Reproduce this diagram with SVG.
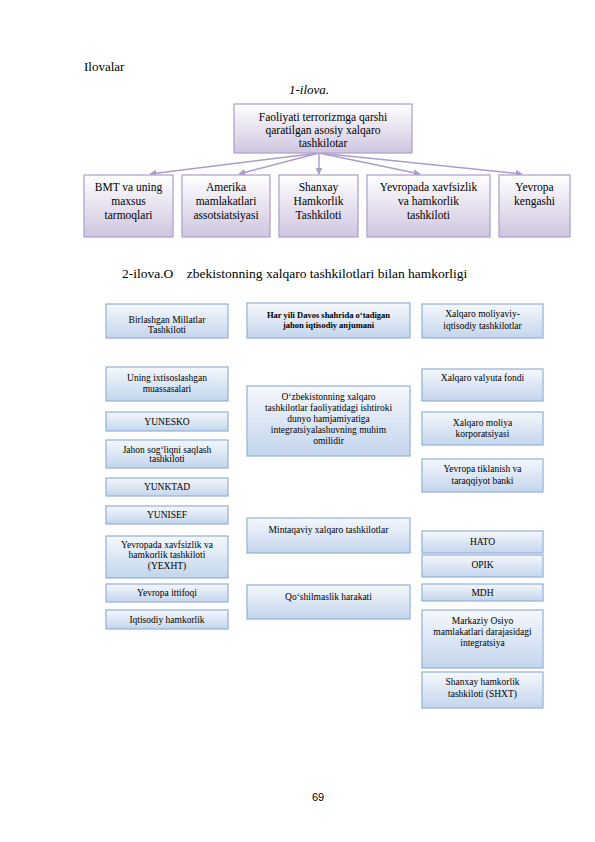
<svg xmlns="http://www.w3.org/2000/svg" width="595" height="842" viewBox="0 0 595 842">
<defs>
<linearGradient id="gp" x1="0" y1="0" x2="0" y2="1">
<stop offset="0" stop-color="#ffffff"/>
<stop offset="1" stop-color="#cfc5df"/>
</linearGradient>
<linearGradient id="gb" x1="0" y1="0" x2="0" y2="1">
<stop offset="0" stop-color="#f5f8fc"/>
<stop offset="1" stop-color="#c3d5ec"/>
</linearGradient>
<marker id="ah" viewBox="0 0 10 10" refX="9" refY="5" markerWidth="7" markerHeight="7" markerUnits="userSpaceOnUse" orient="auto">
<path d="M0,0 L10,5 L0,10 z" fill="#ab9cc9"/>
</marker>
</defs>
<style>
text{font-family:"Liberation Serif","Times New Roman",serif;fill:#000}
.p{fill:url(#gp);stroke:#b3a4cf;stroke-width:1.3}
.b{fill:url(#gb);stroke:#9ab6da;stroke-width:1.3}
.t1{font-size:11.5px;text-anchor:middle}
.t2{font-size:9.5px;text-anchor:middle}
.t3{font-size:8.5px;font-weight:bold;text-anchor:middle}
.c{stroke:#ab9cc9;stroke-width:1.4;fill:none;marker-end:url(#ah)}
</style>
<rect width="595" height="842" fill="#fff"/>
<text x="84" y="71" style="font-size:13px">Ilovalar</text>
<text x="309" y="94" style="font-size:13px;font-style:italic;text-anchor:middle">1-ilova.</text>

<g id="connectors">
<line class="c" x1="319" y1="153" x2="150" y2="174"/>
<line class="c" x1="319" y1="153" x2="239" y2="174"/>
<line class="c" x1="319" y1="153" x2="319" y2="174"/>
<line class="c" x1="319" y1="153" x2="420" y2="174"/>
<line class="c" x1="319" y1="153" x2="522" y2="174"/>
</g>

<g id="top">
<rect class="p" x="234" y="104" width="178" height="49"/>
<text class="t1" x="323" y="121">Faoliyati terrorizmga qarshi</text>
<text class="t1" x="323" y="134">qaratilgan asosiy xalqaro</text>
<text class="t1" x="323" y="147">tashkilotar</text>
</g>
<g id="bmt">
<rect class="p" x="84" y="175" width="89" height="62"/>
<text class="t1" x="128.5" y="191">BMT va uning</text>
<text class="t1" x="128.5" y="205">maxsus</text>
<text class="t1" x="128.5" y="219">tarmoqlari</text>
</g>
<g id="amerika">
<rect class="p" x="182" y="175" width="88" height="62"/>
<text class="t1" x="226" y="191">Amerika</text>
<text class="t1" x="226" y="205">mamlakatlari</text>
<text class="t1" x="226" y="219">assotsiatsiyasi</text>
</g>
<g id="shanxay">
<rect class="p" x="279" y="175" width="79" height="62"/>
<text class="t1" x="318.5" y="191">Shanxay</text>
<text class="t1" x="318.5" y="205">Hamkorlik</text>
<text class="t1" x="318.5" y="219">Tashkiloti</text>
</g>
<g id="yexht">
<rect class="p" x="367" y="175" width="123" height="62"/>
<text class="t1" x="428.5" y="191">Yevropada xavfsizlik</text>
<text class="t1" x="428.5" y="205">va hamkorlik</text>
<text class="t1" x="428.5" y="219">tashkiloti</text>
</g>
<g id="kengash">
<rect class="p" x="499" y="175" width="71" height="62"/>
<text class="t1" x="534.5" y="191">Yevropa</text>
<text class="t1" x="534.5" y="205">kengashi</text>
</g>

<text x="122" y="278" xml:space="preserve" style="font-size:13.5px;white-space:pre">2-ilova.O    zbekistonning xalqaro tashkilotlari bilan hamkorligi</text>

<g id="l1"><rect class="b" x="106" y="304" width="122" height="34"/><text class="t2" x="167" y="323">Birlashgan Millatlar</text><text class="t2" x="167" y="333">Tashkiloti</text></g>
<g id="l2"><rect class="b" x="106" y="367" width="122" height="34"/><text class="t2" x="167" y="381">Uning ixtisoslashgan</text><text class="t2" x="167" y="392">muassasalari</text></g>
<g id="l3"><rect class="b" x="106" y="412" width="122" height="19"/><text class="t2" x="167" y="425">YUNESKO</text></g>
<g id="l4"><rect class="b" x="106" y="440" width="122" height="28"/><text class="t2" x="167" y="453">Jahon sog‘liqni saqlash</text><text class="t2" x="167" y="462">tashkiloti</text></g>
<g id="l5"><rect class="b" x="106" y="478" width="122" height="18"/><text class="t2" x="167" y="490">YUNKTAD</text></g>
<g id="l6"><rect class="b" x="106" y="506" width="122" height="18"/><text class="t2" x="167" y="518">YUNISEF</text></g>
<g id="l7"><rect class="b" x="106" y="536" width="122" height="42"/><text class="t2" x="167" y="548">Yevropada  xavfsizlik va</text><text class="t2" x="167" y="558">hamkorlik tashkiloti</text><text class="t2" x="167" y="569">(YEXHT)</text></g>
<g id="l8"><rect class="b" x="106" y="584" width="122" height="18"/><text class="t2" x="167" y="596">Yevropa ittifoqi</text></g>
<g id="l9"><rect class="b" x="106" y="610" width="122" height="19"/><text class="t2" x="167" y="623">Iqtisodiy hamkorlik</text></g>

<g id="m1"><rect class="b" x="247" y="303" width="163" height="35"/><text class="t3" x="328.5" y="318">Har yili Davos shahrida o‘tadigan</text><text class="t3" x="328.5" y="328">jahon iqtisodiy anjumani</text></g>
<g id="m2"><rect class="b" x="247" y="386" width="163" height="70"/><text class="t2" x="328.5" y="400">O‘zbekistonning xalqaro</text><text class="t2" x="328.5" y="411">tashkilotlar faoliyatidagi ishtiroki</text><text class="t2" x="328.5" y="422">dunyo hamjamiyatiga</text><text class="t2" x="328.5" y="433">integratsiyalashuvning muhim</text><text class="t2" x="328.5" y="444">omilidir</text></g>
<g id="m3"><rect class="b" x="247" y="518" width="163" height="35"/><text class="t2" x="328.5" y="533">Mintaqaviy xalqaro tashkilotlar</text></g>
<g id="m4"><rect class="b" x="247" y="585" width="163" height="34"/><text class="t2" x="328.5" y="600">Qo‘shilmaslik harakati</text></g>

<g id="r1"><rect class="b" x="422" y="304" width="121" height="34"/><text class="t2" x="482.5" y="317">Xalqaro moliyaviy-</text><text class="t2" x="482.5" y="329">iqtisodiy tashkilotlar</text></g>
<g id="r2"><rect class="b" x="422" y="369" width="121" height="32"/><text class="t2" x="482.5" y="381">Xalqaro valyuta fondi</text></g>
<g id="r3"><rect class="b" x="422" y="412" width="121" height="33"/><text class="t2" x="482.5" y="426">Xalqaro moliya</text><text class="t2" x="482.5" y="437">korporatsiyasi</text></g>
<g id="r4"><rect class="b" x="422" y="459" width="121" height="33"/><text class="t2" x="482.5" y="472">Yevropa tiklanish va</text><text class="t2" x="482.5" y="484">taraqqiyot banki</text></g>
<g id="r5"><rect class="b" x="422" y="531" width="121" height="22"/><text class="t2" x="482.5" y="545">HATO</text></g>
<g id="r6"><rect class="b" x="422" y="555" width="121" height="22"/><text class="t2" x="482.5" y="568">OPIK</text></g>
<g id="r7"><rect class="b" x="422" y="584" width="121" height="17"/><text class="t2" x="482.5" y="596">MDH</text></g>
<g id="r8"><rect class="b" x="422" y="610" width="121" height="58"/><text class="t2" x="482.5" y="624">Markaziy Osiyo</text><text class="t2" x="482.5" y="635">mamlakatlari darajasidagi</text><text class="t2" x="482.5" y="646">integratsiya</text></g>
<g id="r9"><rect class="b" x="422" y="672" width="121" height="36"/><text class="t2" x="482.5" y="685">Shanxay hamkorlik</text><text class="t2" x="482.5" y="697">tashkiloti (SHXT)</text></g>

<text x="318" y="801" style="font-family:'Liberation Sans',Arial,sans-serif;font-size:11px;text-anchor:middle">69</text>
</svg>
